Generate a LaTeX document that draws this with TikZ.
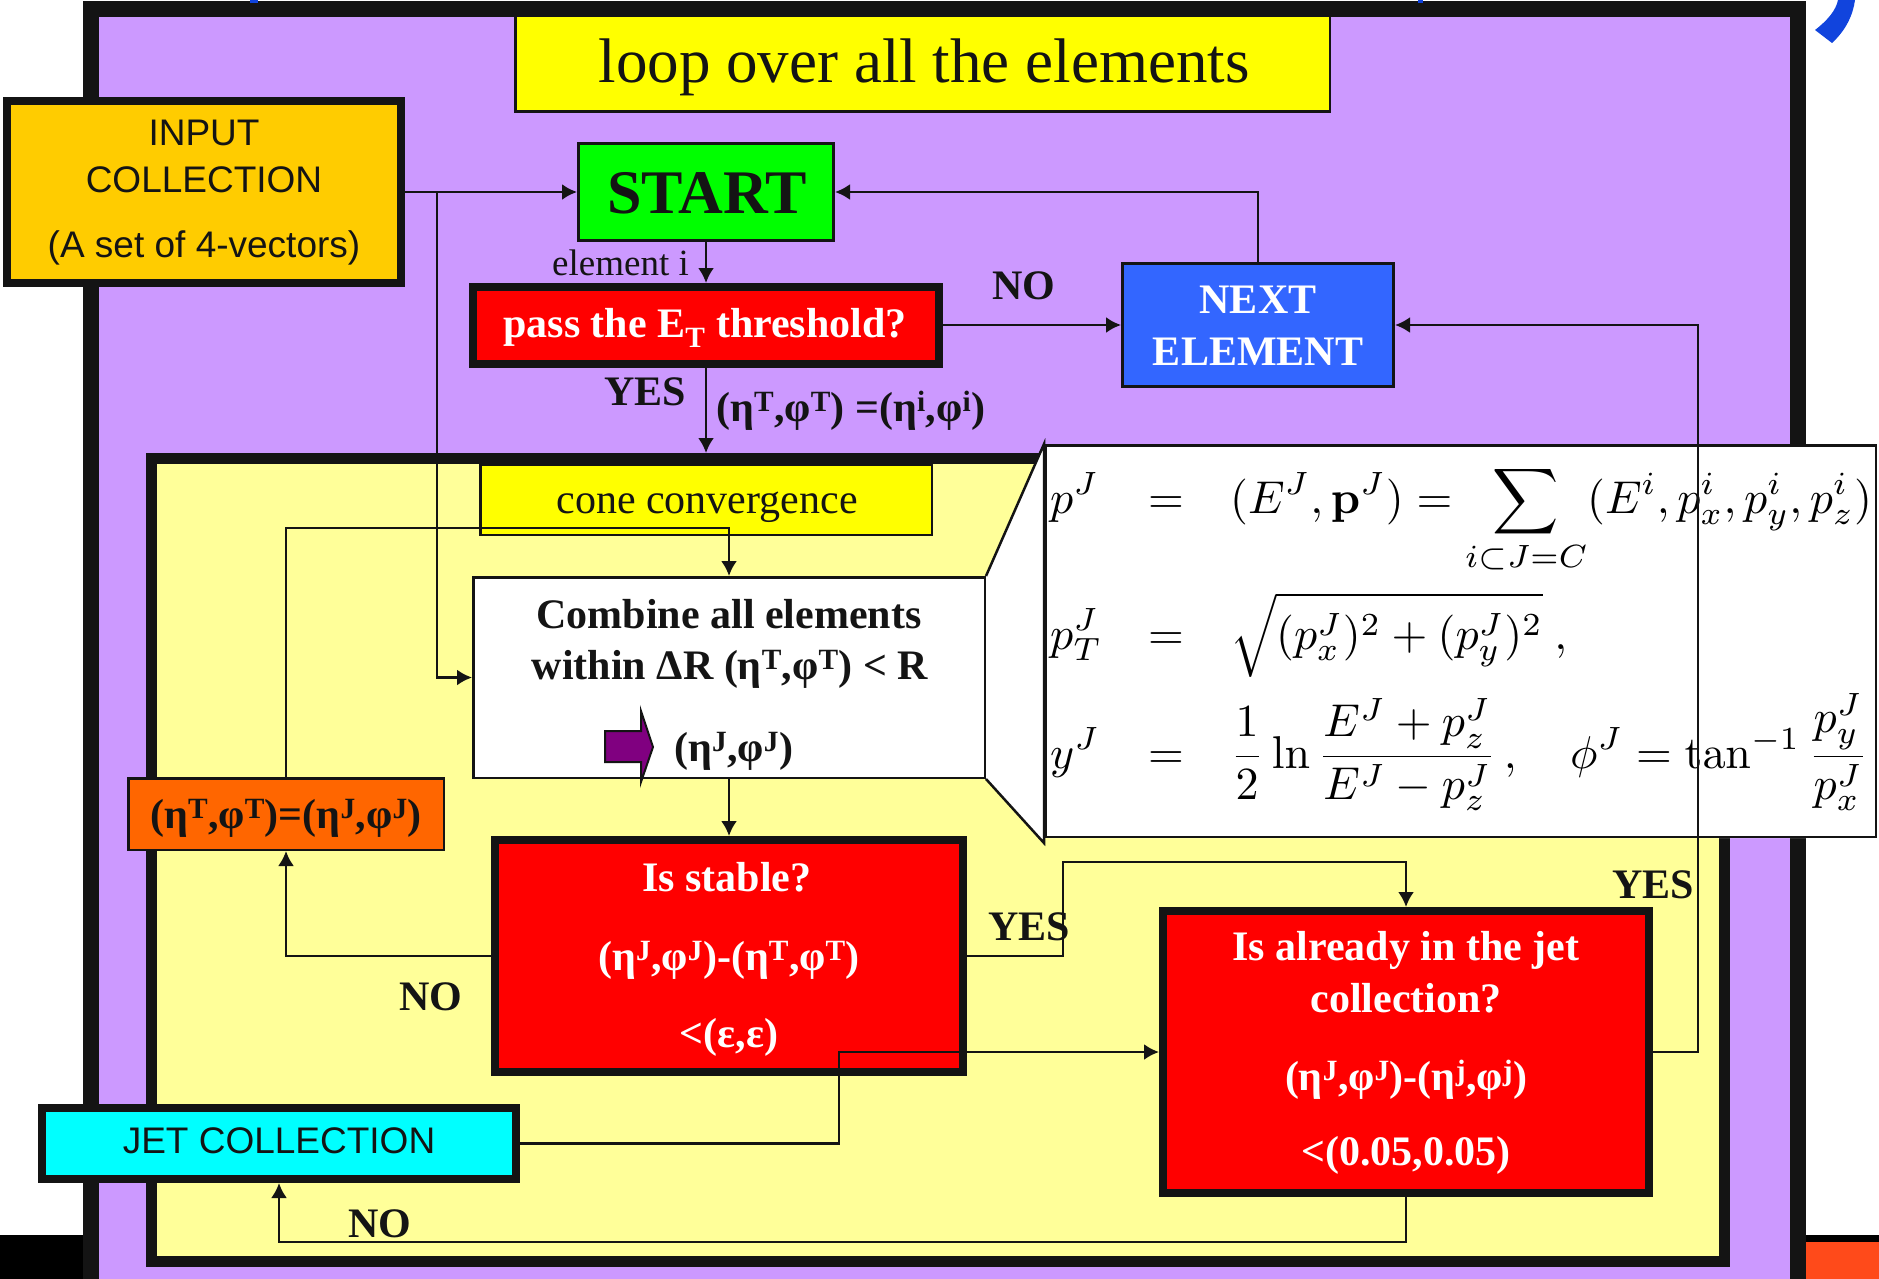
\documentclass[tikz,border=0pt]{standalone}
\usepackage[no-math]{fontspec}
\usepackage{graphicx}
\setmainfont{Liberation Serif}
\setsansfont{Liberation Sans}
\usetikzlibrary{arrows.meta}
\definecolor{linecol}{HTML}{141414}
\definecolor{bgpurple}{HTML}{CC99FF}
\definecolor{paleyellow}{HTML}{FFFF99}
\definecolor{titleyellow}{HTML}{FFFF00}
\definecolor{inorange}{HTML}{FFCC00}
\definecolor{startgreen}{HTML}{00FF00}
\definecolor{boxred}{HTML}{FF0000}
\definecolor{nextblue}{HTML}{3366FF}
\definecolor{looporange}{HTML}{FF6600}
\definecolor{jetcyan}{HTML}{00FFFF}
\definecolor{arrowpurple}{HTML}{800080}
\definecolor{slidered}{HTML}{FF4A1A}
\definecolor{slideblue}{HTML}{1144DD}
\newcommand{\bigmath}[1]{\scalebox{4.6}{$\displaystyle #1$}}
\begin{document}
\begin{tikzpicture}[x=1pt,y=-1pt,
  bx/.style={rectangle, draw=linecol, inner sep=0pt},
  bxk/.style={bx, line width=8pt},
  bxt/.style={bx, line width=2.5pt},
  bxm/.style={bx, line width=3pt},
  txt/.style={inner sep=0pt, text=linecol},
  bold/.style={txt, font=\fontsize{42}{50}\selectfont\bfseries},
  wbold/.style={bold, text=white},
  sans/.style={txt, font=\fontsize{37}{44}\selectfont\sffamily},
  mtxt/.style={txt, text=black},
  conn/.style={draw=linecol, line width=2.5pt, -{Latex[length=15pt,width=16pt]}}]
\useasboundingbox (0,0) rectangle (1879,1279);

% slide background pieces
\fill[linecol] (83,1) rectangle (1806,1279);
\fill[bgpurple] (99,17) rectangle (1790,1279);
\fill[black] (0,1235) rectangle (83,1279);
\fill[black] (1806,1235) rectangle (1879,1242);
\fill[slidered] (1806,1242) rectangle (1879,1279);
\fill[slideblue] (250,0) rectangle (258,3);
\fill[slideblue] (1418,0) rectangle (1423,3);
\fill[slideblue] (1838,0) -- (1855,0) .. controls (1853,15) and (1846,30) .. (1832,43)
  -- (1815,30) .. controls (1828,20) and (1836,10) .. (1838,0) -- cycle;

% inner frame (cone convergence)
\fill[linecol] (146,453) rectangle (1730,1267);
\fill[paleyellow] (157,464) rectangle (1719,1256);

% boxes
\node[bxt, fill=titleyellow, minimum width=814.5pt, minimum height=95.5pt] (title) at (922.5,64) {};
\node[bxk, fill=inorange, minimum width=394pt, minimum height=182pt] (input) at (204,192) {};
\node[bxm, fill=startgreen, minimum width=255pt, minimum height=97pt] (start) at (706,192) {};
\node[bxk, fill=boxred, minimum width=466pt, minimum height=77pt] (pass) at (706,325.5) {};
\node[bxm, fill=nextblue, minimum width=271pt, minimum height=123pt] (next) at (1258,325) {};
\node[bxt, fill=titleyellow, minimum width=451.5pt, minimum height=70.5pt] (cone) at (706,499.5) {};

% formula call-out
\fill[white] (986,576) -- (1044,444) -- (1877,444) -- (1877,838) -- (1044,838) -- (1044,843) -- (986,779) -- cycle;
\draw[linecol, line width=2.5pt] (986,576) -- (1044,444) -- (1044,843) -- (986,779);
\node[bxt, fill=none, minimum width=830.5pt, minimum height=391.5pt] (formula) at (1460.5,641) {};

\node[bxt, fill=white, minimum width=511.5pt, minimum height=200.5pt] (combine) at (729,677.5) {};
\node[bxt, fill=looporange, minimum width=315.5pt, minimum height=71.5pt] (orange) at (286,814) {};
\node[bxk, fill=boxred, minimum width=468pt, minimum height=232pt] (isstable) at (729,956) {};
\node[bxk, fill=boxred, minimum width=486pt, minimum height=282pt] (isalready) at (1406,1052) {};
\node[bxk, fill=jetcyan, minimum width=474pt, minimum height=71pt] (jet) at (279,1143.5) {};

% purple arrow
\filldraw[fill=arrowpurple, draw=linecol, line width=2pt] (605,731) -- (641,731) -- (641,711) -- (653,747)
  -- (641,782) -- (641,762) -- (605,762) -- cycle;

% texts in boxes
\node[txt, anchor=base, font=\fontsize{63}{70}\selectfont] (title-t) at (924,83) {loop over all the elements};
\node[sans, anchor=base] (input-t1) at (204,146) {INPUT};
\node[sans, anchor=base] (input-t2) at (204,192) {COLLECTION};
\node[sans, anchor=base] (input-t3) at (204,257) {(A set of 4-vectors)};
\node[txt, anchor=base, font=\fontsize{62}{70}\selectfont\bfseries] (start-t) at (707,213) {START};
\node[wbold, anchor=base] (pass-t) at (705,337) {pass the E\textsubscript{T} threshold?};
\node[wbold, anchor=base] (next-t1) at (1258,313) {NEXT};
\node[wbold, anchor=base] (next-t2) at (1258,365) {ELEMENT};
\node[txt, anchor=base, font=\fontsize{42}{50}\selectfont] (cone-t) at (707,513) {cone convergence};
\node[bold, anchor=base] (comb-t1) at (729,628) {Combine all elements};
\node[bold, anchor=base] (comb-t2) at (730,679) {within ΔR (η\textsuperscript{T},φ\textsuperscript{T}) < R};
\node[bold, anchor=base west] (comb-t3) at (674,761) {(η\textsuperscript{J},φ\textsuperscript{J})};
\node[bold, anchor=base] (orange-t) at (286,828) {(η\textsuperscript{T},φ\textsuperscript{T})=(η\textsuperscript{J},φ\textsuperscript{J})};
\node[wbold, anchor=base] (stab-t1) at (727,891) {Is stable?};
\node[wbold, anchor=base] (stab-t2) at (729,970) {(η\textsuperscript{J},φ\textsuperscript{J})-(η\textsuperscript{T},φ\textsuperscript{T})};
\node[wbold, anchor=base] (stab-t3) at (729,1047) {<(ε,ε)};
\node[wbold, anchor=base] (alr-t1) at (1406,960) {Is already in the jet};
\node[wbold, anchor=base] (alr-t2) at (1406,1012) {collection?};
\node[wbold, anchor=base] (alr-t3) at (1406,1090) {(η\textsuperscript{J},φ\textsuperscript{J})-(η\textsuperscript{j},φ\textsuperscript{j})};
\node[wbold, anchor=base] (alr-t4) at (1406,1165) {<(0.05,0.05)};
\node[sans, anchor=base] (jet-t) at (279,1153) {JET COLLECTION};

% formulas
\node[mtxt, anchor=base west] (f1l) at (1050,513) {\bigmath{p^J}};
\node[mtxt, anchor=base] (f1e) at (1166,513) {\bigmath{=}};
\node[mtxt, anchor=base west] (f1r) at (1230,513) {\bigmath{(E^J,\mathbf{p}^J)=\sum_{i\subset J=C}(E^i,p^i_x,p^i_y,p^i_z)}};
\node[mtxt, anchor=base west] (f2l) at (1050,649) {\bigmath{p^J_T}};
\node[mtxt, anchor=base] (f2e) at (1166,649) {\bigmath{=}};
\node[mtxt, anchor=base west] (f2r) at (1230,649) {\bigmath{\sqrt{(p^J_x)^2+(p^J_y)^2}\ ,}};
\node[mtxt, anchor=base west] (f3l) at (1050,768) {\bigmath{y^J}};
\node[mtxt, anchor=base] (f3e) at (1166,768) {\bigmath{=}};
\node[mtxt, anchor=base west] (f3r) at (1230,768) {\bigmath{\frac{1}{2}\ln\frac{E^J+p^J_z}{E^J-p^J_z}\,,}};
\node[mtxt, anchor=base west] (f3p) at (1570,768) {\bigmath{\phi^J=\tan^{-1}\frac{p^J_y}{p^J_x}}};

% connectors
\coordinate (br) at (437,192);
\coordinate (innertop) at (706,453);
\coordinate (loopcorner) at (286,528);
\coordinate (yesx) at (1063,862);
\coordinate (jetx) at (839,1052);
\coordinate (rightx) at (1698,325);
\coordinate (boty) at (1406,1242);
\draw[conn] (input.east) -- (start.west);
\draw[conn] (br) |- (combine.west);
\draw[conn] (start.south) -- (pass.north);
\draw[conn] (pass.south) -- (innertop);
\draw[conn] (pass.east |- next.west) -- (next.west);
\draw[conn] (next.north) |- (start.east);
\draw[conn] (orange.north) -- (loopcorner) -| (combine.north);
\draw[conn] (combine.south) -- (isstable.north);
\draw[conn] (isstable.west) -| (orange.south);
\draw[conn] (isstable.east) -| (yesx) -| (isalready.north);
\draw[conn] (jet.east) -| (jetx) -- (isalready.west);
\draw[conn] (isalready.east) -| (rightx) -- (next.east);
\draw[conn] (isalready.south) -- (boty) -| (jet.south);

% connector labels
\node[txt, anchor=base east, font=\fontsize{37}{44}\selectfont] (elem-l) at (689,275) {element i};
\node[bold, anchor=base] (yes1) at (645,405) {YES};
\node[bold, anchor=base west] (set-l) at (716,421) {(η\textsuperscript{T},φ\textsuperscript{T}) =(η\textsuperscript{i},φ\textsuperscript{i})};
\node[bold, anchor=base] (no1) at (1024,299) {NO};
\node[bold, anchor=base] (no2) at (431,1010) {NO};
\node[bold, anchor=base] (yes2) at (1029,940) {YES};
\node[bold, anchor=base] (yes3) at (1653,898) {YES};
\node[bold, anchor=base] (no3) at (380,1237) {NO};
\end{tikzpicture}
\end{document}
